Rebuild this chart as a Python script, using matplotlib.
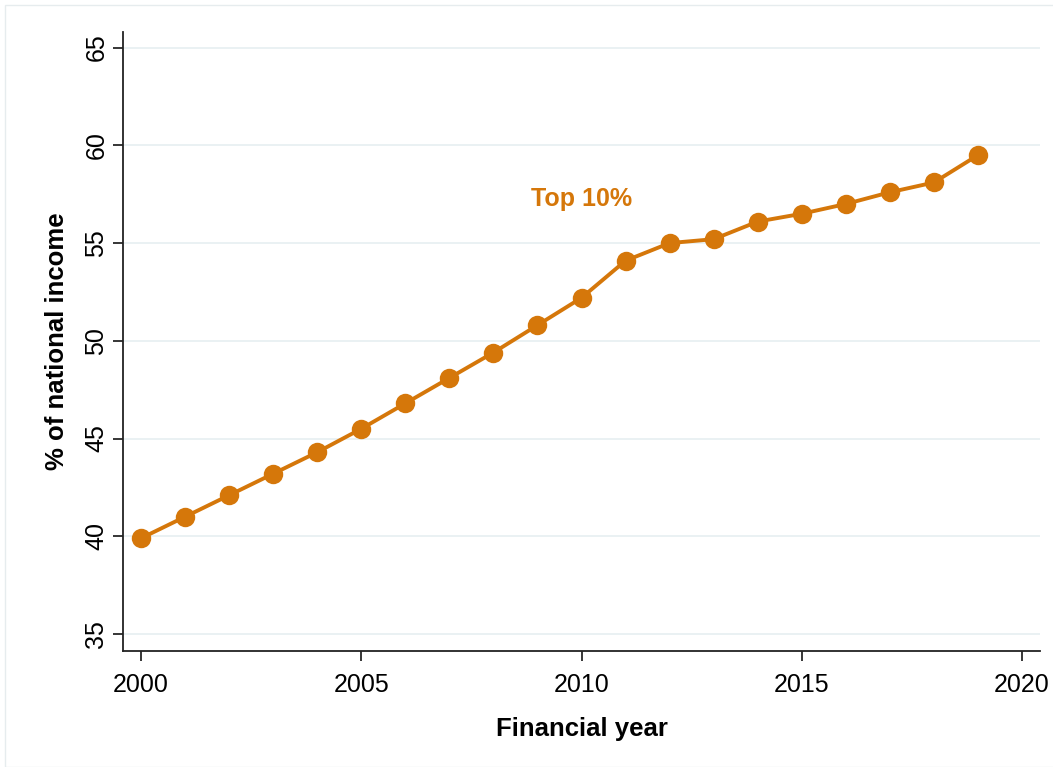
import matplotlib
matplotlib.use("Agg")
import matplotlib.pyplot as plt
from matplotlib.patches import Rectangle

## data
years = [2000, 2001, 2002, 2003, 2004, 2005, 2006, 2007, 2008, 2009,
         2010, 2011, 2012, 2013, 2014, 2015, 2016, 2017, 2018, 2019]
top10 = [39.9, 41.0, 42.1, 43.2, 44.3, 45.5, 46.8, 48.1, 49.4, 50.8,
         52.2, 54.1, 55.0, 55.2, 56.1, 56.5, 57.0, 57.6, 58.1, 59.5]
xticks = [2000, 2005, 2010, 2015, 2020]
yticks = [35, 40, 45, 50, 55, 60, 65]
series_label = 'Top 10%'

orange = '#D5770A'
plt.rcParams['font.family'] = ['Liberation Sans', 'DejaVu Sans']

fig = plt.figure(figsize=(10.53, 7.67), dpi=100)
ax = fig.add_axes([0.1168, 0.1512, 0.8709, 0.8071])

## faint outer frame of the graph region
fig.patches.append(Rectangle((5 / 1053, 0), 1.0, 1 - 5 / 767, transform=fig.transFigure,
                             fill=False, edgecolor='#E6ECEE', linewidth=1.0))

ax.plot(years, top10, color=orange, linewidth=2.8, marker='o', markersize=14,
        markeredgewidth=0, zorder=3)
ax.text(2010.0, 57.25, series_label, color=orange, fontsize=18, fontweight='bold',
        ha='center', va='center')

ax.set_xlim(1999.59, 2020.41)
ax.set_ylim(34.13, 65.8)
ax.set_xticks(xticks)
ax.set_yticks(yticks)
ax.grid(axis='y', color='#E8F0F2', linewidth=1.3)
ax.set_axisbelow(True)

for s in ['top', 'right']:
    ax.spines[s].set_visible(False)
for s in ['left', 'bottom']:
    ax.spines[s].set_linewidth(1.3)
    ax.spines[s].set_color('#222222')

ax.tick_params(axis='both', direction='out', length=7, width=1.1, labelsize=18)
ax.tick_params(axis='x', pad=9)
for lab in ax.get_yticklabels():
    lab.set_rotation(90)
    lab.set_va('center')

ax.set_xlabel('Financial year', fontsize=18.5, fontweight='bold', labelpad=14)
ax.set_ylabel('% of national income', fontsize=18.5, fontweight='bold', labelpad=11)

fig.savefig('out.png', dpi=100)
